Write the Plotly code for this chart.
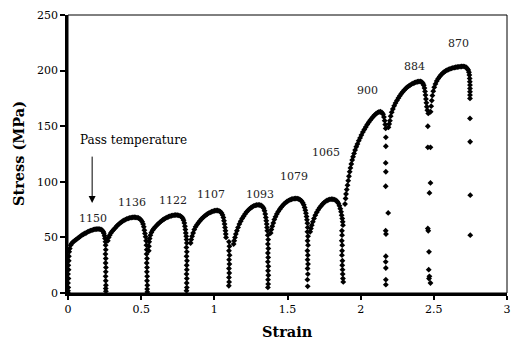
import plotly.graph_objects as go

# ---- pass temperatures (deg C) -------------------------------------------
temps = ["1150", "1136", "1122", "1107", "1093", "1079", "1065", "900", "884", "870"]

# ---- measured stress-strain points, one pair of lists per pass -----------
strain_1150 = [0, 0, 0.002, 0, 0.003, 0, 0.004, 0.002, 0.005, 0.006, 0.008, 0.012, 0.018,
               0.025, 0.035, 0.045, 0.055, 0.065, 0.075, 0.085, 0.095, 0.105, 0.115, 0.125,
               0.135, 0.145, 0.155, 0.165, 0.175, 0.185, 0.195, 0.205, 0.215, 0.225, 0.233,
               0.24, 0.245, 0.25, 0.253,
               0.256, 0.257, 0.258, 0.256, 0.258, 0.257, 0.259, 0.258, 0.257, 0.258, 0.259,
               0.258, 0.259]
stress_1150 = [0, 2, 5, 9, 13, 17, 21, 25, 29, 33, 37, 40, 43,
               44.5, 46, 47, 48, 49, 50, 51, 52, 52.8, 53.5, 54.2, 55, 55.6, 56.1, 56.6, 57,
               57.3, 57.5, 57.6, 57.5, 57.2, 56.5, 55.3, 53.8, 51.5, 49,
               46, 43, 39, 35, 31, 27, 23, 19, 15, 11, 7, 4, 1.5]

strain_1136 = [0.272, 0.278, 0.285, 0.293, 0.302, 0.312, 0.322, 0.332, 0.342, 0.352, 0.362,
               0.372, 0.382, 0.392, 0.402, 0.412, 0.422, 0.432, 0.442, 0.452, 0.462, 0.472,
               0.482, 0.492, 0.5, 0.507, 0.513, 0.518, 0.522, 0.526, 0.53,
               0.534, 0.536, 0.538, 0.537, 0.54, 0.538, 0.54, 0.539, 0.541, 0.54, 0.542,
               0.541, 0.542]
stress_1136 = [47, 50, 52, 54, 55.5, 57, 58.5, 60, 61.3, 62.5, 63.5, 64.5, 65.3, 66, 66.6,
               67.1, 67.5, 67.8, 68, 68.1, 68, 67.8, 67.4, 66.6, 65.5, 64, 62, 59.5, 56.5,
               53.5, 50.5,
               47, 43, 39, 35, 31, 27, 23, 19, 15, 11, 7, 3.5, 1]

strain_1122 = [0.552, 0.553, 0.555, 0.558, 0.563, 0.57, 0.578, 0.587, 0.597, 0.607, 0.617,
               0.627, 0.637, 0.647, 0.657, 0.667, 0.677, 0.687, 0.697, 0.707, 0.717, 0.727,
               0.737, 0.747, 0.757, 0.767, 0.776, 0.784, 0.79, 0.795, 0.799, 0.802, 0.805,
               0.808,
               0.81, 0.812, 0.809, 0.812, 0.81, 0.813, 0.811, 0.812, 0.81, 0.812, 0.811,
               0.812, 0.81]
stress_1122 = [38, 42, 46, 49, 52, 54.5, 56.5, 58, 59.5, 61, 62.3, 63.5, 64.6, 65.6, 66.5,
               67.3, 68, 68.6, 69.1, 69.5, 69.8, 70, 70.1, 70, 69.8, 69.3, 68.5, 67.2, 65.5,
               63, 60, 57, 54, 51,
               48, 45, 41, 37, 33, 29, 25, 21, 17, 13, 9, 5, 2]

strain_1107 = [0.838, 0.842, 0.848, 0.855, 0.863, 0.872, 0.882, 0.892, 0.902, 0.912, 0.922,
               0.932, 0.942, 0.952, 0.962, 0.972, 0.982, 0.992, 1.002, 1.012, 1.022, 1.032,
               1.041, 1.049, 1.056, 1.062, 1.066, 1.07, 1.073, 1.076, 1.078, 1.08,
               1.1, 1.103, 1.1, 1.104, 1.101, 1.103, 1.1, 1.102, 1.1, 1.101, 1.099]
stress_1107 = [45, 48, 51, 54, 57, 59.5, 61.5, 63.3, 65, 66.5, 67.8, 69, 70, 71, 71.8, 72.5,
               73.1, 73.6, 74, 74.2, 74.2, 73.9, 73.2, 72, 70.2, 67.8, 65, 62, 59, 56, 53, 50,
               46, 42, 38, 34, 30, 26, 22, 18, 14, 10, 6.5]

strain_1093 = [1.132, 1.136, 1.141, 1.147, 1.154, 1.162, 1.171, 1.18, 1.19, 1.2, 1.21, 1.22,
               1.23, 1.24, 1.25, 1.26, 1.27, 1.28, 1.29, 1.3, 1.31, 1.32, 1.329, 1.337, 1.343,
               1.348, 1.352, 1.355, 1.358, 1.36, 1.362,
               1.365, 1.368, 1.366, 1.369, 1.366, 1.368, 1.366, 1.369, 1.367, 1.369, 1.367,
               1.368, 1.366]
stress_1093 = [44, 47, 50, 53, 56, 59, 62, 64.5, 67, 69, 71, 72.8, 74.3, 75.6, 76.7, 77.6,
               78.3, 78.8, 79.1, 79.2, 79.1, 78.7, 77.8, 76.3, 74, 71, 68, 65, 62, 59, 56,
               52, 48, 44, 40, 36, 32, 28, 24, 20, 16, 12, 8, 5]

strain_1079 = [1.385, 1.39, 1.396, 1.403, 1.41, 1.418, 1.427, 1.437, 1.447, 1.457, 1.467,
               1.477, 1.487, 1.497, 1.507, 1.517, 1.527, 1.537, 1.547, 1.557, 1.567, 1.577,
               1.587, 1.596, 1.604, 1.611, 1.617, 1.622, 1.626, 1.63, 1.633, 1.636,
               1.638, 1.636, 1.64, 1.637, 1.64, 1.636, 1.639, 1.637, 1.64, 1.637, 1.639,
               1.636, 1.638]
stress_1079 = [54, 57, 60, 63, 66, 68.5, 71, 73.3, 75.3, 77.1, 78.7, 80.1, 81.3, 82.3, 83.1,
               83.8, 84.3, 84.7, 84.9, 85, 84.9, 84.5, 83.8, 82.7, 81.2, 79.3, 77, 74.5,
               71.8, 68.8, 65.8, 62.8,
               59, 55, 51, 47, 43, 38, 34, 30, 26, 22, 17, 12, 6]

strain_1065 = [1.655, 1.66, 1.666, 1.673, 1.681, 1.69, 1.7, 1.71, 1.72, 1.73, 1.74, 1.75,
               1.76, 1.77, 1.78, 1.79, 1.8, 1.81, 1.82, 1.83, 1.84, 1.848, 1.855, 1.861,
               1.866, 1.87, 1.874, 1.877, 1.879,
               1.872, 1.873, 1.871, 1.874, 1.873, 1.872, 1.875, 1.874, 1.876, 1.877, 1.879,
               1.881]
stress_1065 = [55, 58, 61, 64, 67, 70, 72.6, 74.8, 76.8, 78.5, 80, 81.3, 82.4, 83.2, 83.8,
               84.2, 84.4, 84.3, 84, 83.4, 82.3, 80.6, 78.4, 75.8, 73, 70, 67, 64, 61,
               56, 52, 47, 43, 38, 34, 29, 25, 21, 17, 13, 10]

strain_900 = [1.893, 1.897, 1.9, 1.905, 1.91, 1.915, 1.92, 1.925, 1.93, 1.936, 1.942, 1.948,
              1.955, 1.962, 1.97, 1.978, 1.987, 1.996, 2.005, 2.015, 2.025, 2.035, 2.045,
              2.055, 2.065, 2.075, 2.085, 2.095, 2.105, 2.115, 2.125, 2.135, 2.145, 2.153,
              2.159, 2.164, 2.168, 2.171,
              2.172, 2.172, 2.171, 2.172, 2.171, 2.188, 2.171, 2.173, 2.172, 2.171, 2.172,
              2.172, 2.172]
stress_900 = [80, 85, 89, 93, 97, 101, 105, 109, 112.5, 116, 119.5, 122.5, 125.5, 128.5,
              131.5, 134, 137, 139.5, 142, 144.7, 147, 149.3, 151.5, 153.5, 155.3, 157,
              158.6, 160, 161.2, 162.2, 162.8, 163, 162.4, 160.8, 158.2, 155, 151.5, 148,
              140, 132, 117, 109, 96, 72, 56, 53, 33, 28, 22.5, 12, 7.5]

strain_884 = [2.19, 2.195, 2.2, 2.205, 2.212, 2.22, 2.229, 2.238, 2.248, 2.258, 2.268, 2.278,
              2.288, 2.298, 2.308, 2.318, 2.328, 2.338, 2.348, 2.358, 2.368, 2.378, 2.388,
              2.398, 2.408, 2.417, 2.425, 2.431, 2.436, 2.44, 2.443, 2.446, 2.449, 2.452,
              2.456, 2.462,
              2.459, 2.459, 2.477, 2.477, 2.47, 2.459, 2.462, 2.467, 2.465, 2.47, 2.467,
              2.477]
stress_884 = [149, 152, 155, 159, 162.5, 165.5, 168.3, 170.8, 173.2, 175.4, 177.4, 179.3,
              181, 182.5, 183.9, 185.1, 186.1, 187, 187.8, 188.5, 189.1, 189.6, 190, 190.2,
              190.2, 189.7, 188.6, 186.8, 184.3, 181.3, 178, 174.5, 171, 167.5, 164.3, 161.5,
              150, 131, 131, 99, 90, 58, 56, 37, 21, 15, 13, 9]

strain_870 = [2.478, 2.482, 2.486, 2.49, 2.496, 2.503, 2.511, 2.52, 2.53, 2.54, 2.55, 2.56,
              2.57, 2.58, 2.59, 2.6, 2.61, 2.62, 2.63, 2.64, 2.65, 2.66, 2.67, 2.68, 2.69,
              2.7, 2.71, 2.72, 2.728, 2.735, 2.74, 2.743, 2.745, 2.746, 2.747, 2.747, 2.747,
              2.747, 2.747,
              2.747, 2.748, 2.749, 2.749]
stress_870 = [163, 168, 173, 177.5, 181.5, 185, 188, 190.6, 192.8, 194.7, 196.3, 197.6,
              198.7, 199.6, 200.4, 201, 201.5, 202, 202.4, 202.7, 203, 203.2, 203.4, 203.6,
              203.7, 203.8, 203.6, 203, 202, 200.5, 198.5, 196, 193, 190, 187, 184, 181,
              178, 175,
              157, 136, 88, 52]

strains = [strain_1150, strain_1136, strain_1122, strain_1107, strain_1093,
           strain_1079, strain_1065, strain_900, strain_884, strain_870]
stresses = [stress_1150, stress_1136, stress_1122, stress_1107, stress_1093,
            stress_1079, stress_1065, stress_900, stress_884, stress_870]

# axis ticks
x_ticks = [0, 0.5, 1, 1.5, 2, 2.5, 3]
x_tick_text = ["0", "0.5", "1", "1.5", "2", "2.5", "3"]
y_ticks = [0, 50, 100, 150, 200, 250]

# where each temperature label sits (strain, stress)
label_xy = [(0.17, 67), (0.44, 81), (0.72, 83), (0.98, 89), (1.31, 88.5),
            (1.545, 105), (1.76, 126), (2.05, 182), (2.37, 204), (2.67, 224.5)]

SERIF = "DejaVu Serif"

fig = go.Figure()
for t, xs, ys in zip(temps, strains, stresses):
    assert len(xs) == len(ys)
    fig.add_trace(go.Scatter(
        x=xs, y=ys, mode="markers", name=t, showlegend=False,
        marker=dict(symbol="diamond", size=4.5, color="black", line=dict(width=0)),
        cliponaxis=False,
    ))

annotations = []
for t, (lx, ly) in zip(temps, label_xy):
    annotations.append(dict(x=lx, y=ly, xref="x", yref="y", text=t, showarrow=False,
                            font=dict(family=SERIF, size=11, color="#222")))

# "Pass temperature" note with its arrow
annotations.append(dict(x=0.065, y=138, xref="x", yref="y", text="Pass temperature",
                        xanchor="left", showarrow=False,
                        font=dict(family=SERIF, size=12, color="black")))
annotations.append(dict(x=0.165, y=81, ax=0.165, ay=124, xref="x", yref="y",
                        axref="x", ayref="y", text="", showarrow=True,
                        arrowhead=2, arrowsize=1.4, arrowwidth=1, arrowcolor="black"))

# axis titles
annotations.append(dict(x=0.5, y=0, xref="paper", yref="paper", yshift=-38,
                        text="<b>Strain</b>", showarrow=False, yanchor="middle",
                        font=dict(family=SERIF, size=14.5, color="black")))
annotations.append(dict(x=0, y=0.5, xref="paper", yref="paper", xshift=-50,
                        text="<b>Stress (MPa)</b>", showarrow=False, textangle=-90,
                        xanchor="center", font=dict(family=SERIF, size=14.5, color="black")))

fig.update_layout(
    width=513, height=343,
    margin=dict(l=68, r=2, t=15, b=50),
    paper_bgcolor="white", plot_bgcolor="white",
    annotations=annotations,
    shapes=[dict(type="rect", xref="paper", yref="paper", x0=0, y0=0, x1=1, y1=1,
                 line=dict(color="black", width=1))],
    xaxis=dict(range=[0, 3], tickvals=x_ticks, ticktext=x_tick_text,
               ticks="outside", ticklen=4, tickwidth=1.5, tickcolor="black",
               showline=True, linewidth=2.5, linecolor="black",
               showgrid=False, zeroline=False, ticklabeloverflow="allow",
               tickfont=dict(family=SERIF, size=11, color="black")),
    yaxis=dict(range=[0, 250], tickvals=y_ticks,
               ticks="outside", ticklen=5, tickwidth=1.5, tickcolor="black",
               showline=True, linewidth=2.5, linecolor="black",
               showgrid=False, zeroline=False,
               tickfont=dict(family=SERIF, size=11, color="black")),
)

fig.write_html("out.html")
